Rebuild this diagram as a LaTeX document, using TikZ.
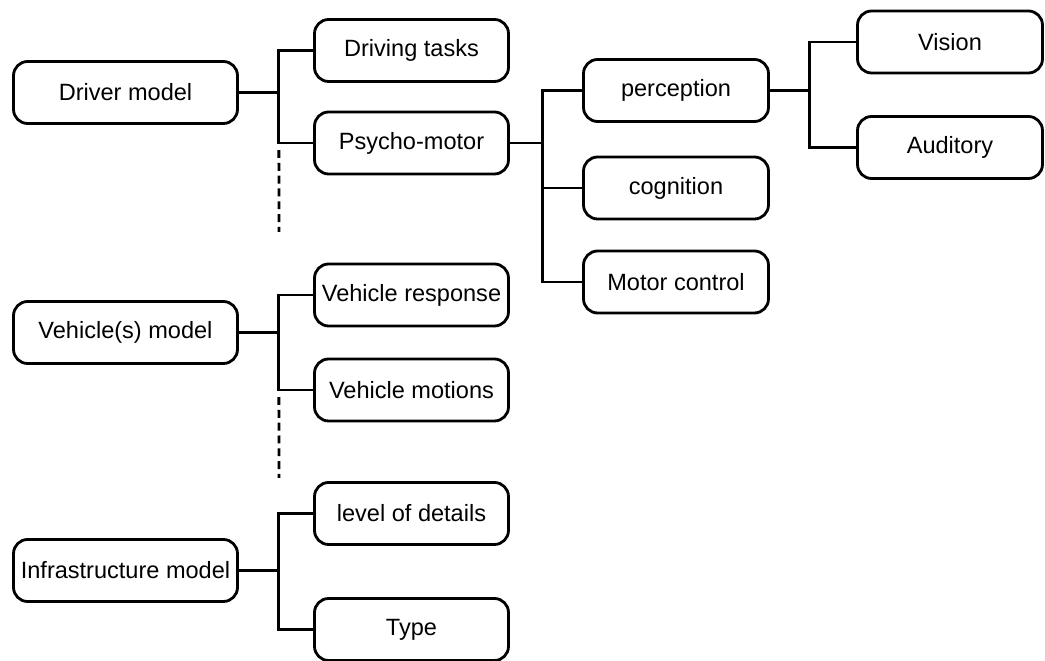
\documentclass[tikz,border=0pt]{standalone}
\usepackage{fontspec}
\setmainfont{Liberation Sans}
\usetikzlibrary{positioning}

\begin{document}
\begin{tikzpicture}[x=0.02cm, y=-0.02cm,
		box/.style={draw, line width=1.6pt, rounded corners=8pt, inner sep=2pt,
			minimum height=1.24cm, font=\fontsize{13.4}{16}\selectfont},
		modelbox/.style={box, minimum width=4.48cm},
		partbox/.style={box, minimum width=3.88cm},
		subbox/.style={box, minimum width=3.70cm},
		link/.style={line width=1.6pt},
		gapline/.style={link, dash pattern=on 4.5pt off 2.8pt}]
		\useasboundingbox (0, 0) rectangle (1045, 661);
		% models
		\node[modelbox] (driver) at (125.5, 92.5) {Driver model};
		\node[modelbox] (vehicle) at (125.5, 332.5) {Vehicle(s) model};
		\node[modelbox] (infra) at (125.5, 570.5) {Infrastructure model};
		% second level
		\node[partbox] (tasks) at (411.5, 50.5) {Driving tasks};
		\node[partbox] (psycho) at (411.5, 143) {Psycho-motor};
		\node[partbox] (response) at (411.5, 295) {Vehicle response};
		\node[partbox] (motions) at (411.5, 390) {Vehicle motions};
		\node[partbox] (details) at (411.5, 513.5) {level of details};
		\node[partbox] (type) at (411.5, 629.5) {Type};
		% psycho-motor parts
		\node[subbox] (percep) at (676, 90.5) {perception};
		\node[subbox] (cogn) at (676, 188) {cognition};
		\node[subbox] (motor) at (676, 282) {Motor control};
		\node[subbox] (vision) at (950, 42) {Vision};
		\node[subbox] (audit) at (950, 147.5) {Auditory};
		% connectors
		\draw[link] (driver.east) -- ++(40, 0) coordinate (jdrv) |- (tasks.west);
		\draw[link] (jdrv) |- (psycho.west);
		\draw[link] (vehicle.east) -- ++(40, 0) coordinate (jveh) |- (response.west);
		\draw[link] (jveh) |- (motions.west);
		\draw[link] (infra.east) -- ++(40, 0) coordinate (jinf) |- (details.west);
		\draw[link] (jinf) |- (type.west);
		\draw[link] (psycho.east) -- ++(33, 0) coordinate (jpsy) |- (percep.west);
		\draw[link] (jpsy) |- (cogn.west);
		\draw[link] (jpsy) |- (motor.west);
		\draw[link] (percep.east) -- ++(40, 0) coordinate (jper) |- (vision.west);
		\draw[link] (jper) |- (audit.west);
		% open ends
		\coordinate (drvend) at (279, 232);
		\coordinate (vehend) at (279, 478);
		\draw[gapline] ([yshift=-4pt]jdrv |- psycho.west) -- (drvend);
		\draw[gapline] ([yshift=-4pt]jveh |- motions.west) -- (vehend);
	\end{tikzpicture}
\end{document}
